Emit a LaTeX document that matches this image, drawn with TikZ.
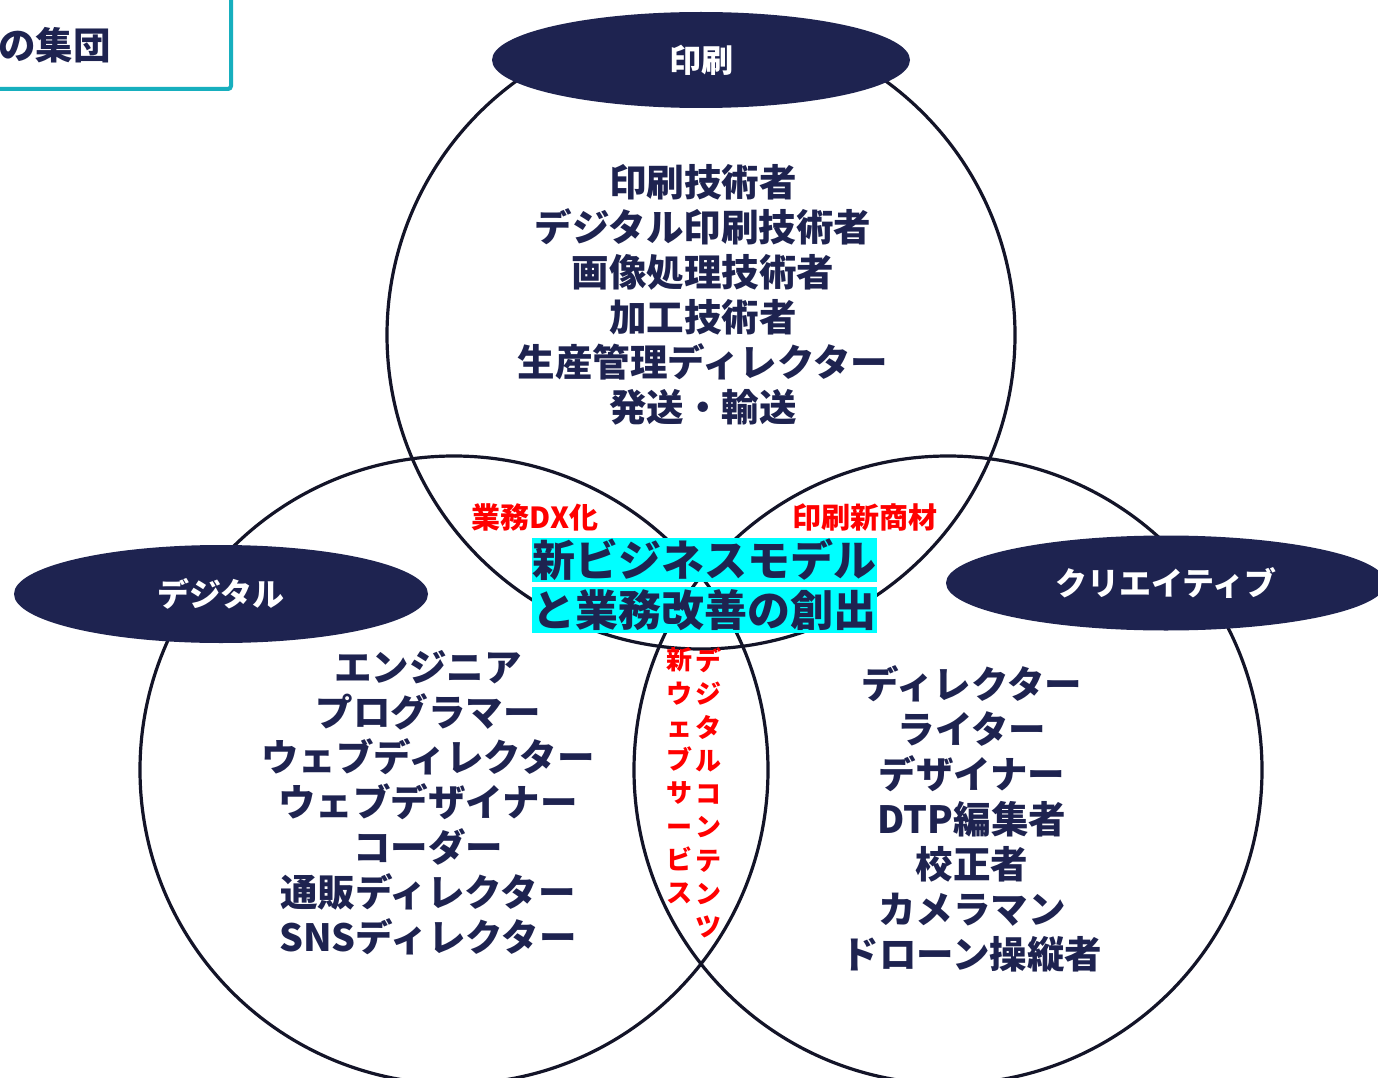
\documentclass[tikz,border=0pt]{standalone}
\usepackage{fontspec}
\newfontfamily\jp{Noto Sans CJK JP}
\usetikzlibrary{shapes.geometric}
\definecolor{navy}{HTML}{1E2350}
\definecolor{ink}{HTML}{131428}
\definecolor{tealb}{HTML}{17AFBE}
\definecolor{hl}{HTML}{00FFFF}
\tikzset{
  ring/.style={circle, draw=ink, line width=3.2pt, minimum size=628pt, inner sep=0pt},
  capell/.style={ellipse, fill=navy, inner sep=0pt, text=white,
    font=\jp\bfseries\fontsize{32}{32}\selectfont, text height=28.2pt, text depth=3.8pt},
  roles/.style={align=center, text=navy, inner sep=0pt,
    font=\jp\bfseries\fontsize{37.5}{45}\selectfont},
  redlbl/.style={text=red, inner sep=0pt, font=\jp\bfseries\fontsize{29}{29}\selectfont,
    text height=25.5pt, text depth=3.5pt},
  redcol/.style={text=red, inner sep=0pt, align=center, font=\jp\bfseries\fontsize{26}{33.3}\selectfont},
  hlbox/.style={fill=hl, text=navy, inner sep=0pt, minimum width=345pt,
    font=\jp\bfseries\fontsize{43}{43}\selectfont, text height=37.8pt, text depth=5.2pt}
}
\begin{document}
\begin{tikzpicture}[x=1pt,y=-1pt]
\useasboundingbox[fill=white] (0,0) rectangle (1378,1078);
% group box (cut off)
\node[draw=tealb, line width=4pt, rounded corners=3pt, minimum width=400pt, minimum height=160pt,
  anchor=south east, inner sep=0pt] (grpbox) at (233,91) {};
\node[anchor=east, text=navy, inner sep=0pt, font=\jp\bfseries\fontsize{37.5}{37.5}\selectfont,
  text height=33pt, text depth=4.5pt] (grp) at (111,45) {の集団};
% circles
\node[ring] (cprint) at (701,335) {};
\node[ring] (cdig) at (454,770) {};
\node[ring] (ccre) at (948,770) {};
% caption ellipses
\node[capell, minimum width=418pt, minimum height=96pt] (eprint) at (701,60) {印刷};
\node[capell, minimum width=414pt, minimum height=98pt] (edig) at (221,594) {デジタル};
\node[capell, minimum width=440pt, minimum height=95pt] (ecre) at (1166,583) {クリエイティブ};
% role lists
\node[roles] (tprint) at (703,295) {印刷技術者\\デジタル印刷技術者\\画像処理技術者\\加工技術者\\生産管理ディレクター\\発送・輸送};
\node[roles] (tdig) at (428,803) {エンジニア\\プログラマー\\ウェブディレクター\\ウェブデザイナー\\コーダー\\通販ディレクター\\SNSディレクター};
\node[roles] (tcre) at (972,819) {ディレクター\\ライター\\デザイナー\\DTP編集者\\校正者\\カメラマン\\ドローン操縦者};
% overlap labels
\node[redlbl] (dx) at (535,517) {業務DX化};
\node[redlbl] (mat) at (865,517) {印刷新商材};
\node[redcol] (webs) at (679,776) {新\\ウ\\ェ\\ブ\\サ\\ー\\ビ\\ス};
\node[redcol] (cont) at (708,793) {デ\\ジ\\タ\\ル\\コ\\ン\\テ\\ン\\ツ};
% centre highlight
\node[hlbox, minimum height=44pt] (hl1) at (704.5,560) {新ビジネスモデル};
\node[hlbox, minimum height=46pt] (hl2) at (704,610) {と業務改善の創出};
\end{tikzpicture}
\end{document}
